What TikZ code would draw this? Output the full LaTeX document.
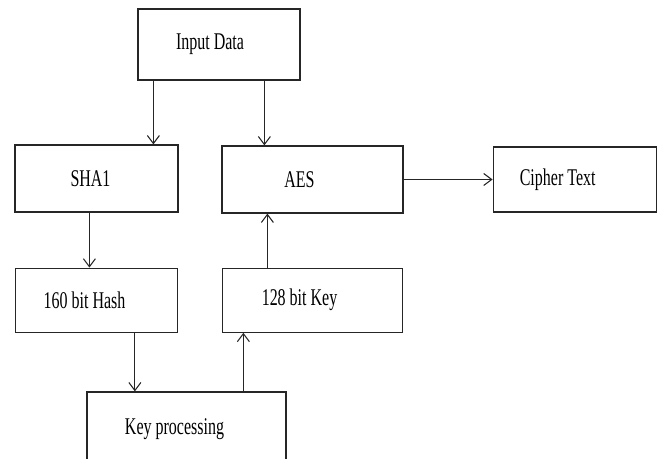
\documentclass[tikz,border=0pt]{standalone}
\usepackage{fontspec}
\setmainfont{Liberation Serif}
\usepackage{graphicx}
\usetikzlibrary{positioning,arrows.meta}
\newcommand{\tallt}[2][0cm]{\scalebox{1}[1.5]{#2}\hspace*{#1}}

\begin{document}
\begin{tikzpicture}[x=0.02cm, y=-0.02cm,
  every node/.style={font=\fontsize{9.1}{11}\selectfont},
  box/.style={rectangle, draw=black!85, line width=0.7pt, inner sep=0pt,
              minimum width=3.24cm, minimum height=1.34cm},
  arr/.style={-{Straight Barb[length=1.6mm,width=2.4mm]}, line width=0.6pt, color=black!85}
]
  \path[use as bounding box, clip] (0,0) rectangle (657,459);

  \node[box, minimum height=1.42cm] (inp) at (219,44.5) {\tallt[0.36cm]{Input Data}};
  \node[box, minimum width=3.26cm] (sha) at (96.5,178.5) {\tallt[0.24cm]{SHA1}};
  \node[box, minimum width=3.62cm] (aes) at (312.5,179.5) {\tallt[0.52cm]{AES}};
  \node[box, minimum width=3.26cm, minimum height=1.30cm, right=1.78cm of aes] (cip) {\tallt[0.68cm]{Cipher Text}};
  \node[box, minimum height=1.28cm, below=1.1cm of sha] (hsh) {\tallt[0.48cm]{160 bit Hash}};
  \node[box, minimum width=3.6cm, minimum height=1.28cm, below=1.08cm of aes] (key) {\tallt[0.52cm]{128 bit Key}};
  \node[box, minimum width=3.98cm, minimum height=1.48cm] (kp) at (186.5,429) {\tallt[0.48cm]{Key processing}};

  \draw[arr] ([xshift=0.32cm]inp.south west) -- ([xshift=0.32cm]inp.south west |- sha.north);
  \draw[arr] ([xshift=2.54cm]inp.south west) -- ([xshift=2.54cm]inp.south west |- aes.north);
  \draw[arr] (aes.east) -- (aes.east -| cip.west);
  \draw[arr] ([xshift=1.5cm]sha.south west) -- ([xshift=1.5cm]sha.south west |- hsh.north);
  \draw[arr] ([xshift=2.4cm]hsh.south west) -- ([xshift=2.4cm]hsh.south west |- kp.north);
  \draw[arr] ([xshift=3.14cm]kp.north west) -- ([xshift=3.14cm]kp.north west |- key.south);
  \draw[arr] ([xshift=0.91cm]key.north west) -- ([xshift=0.91cm]key.north west |- aes.south);
\end{tikzpicture}
\end{document}
